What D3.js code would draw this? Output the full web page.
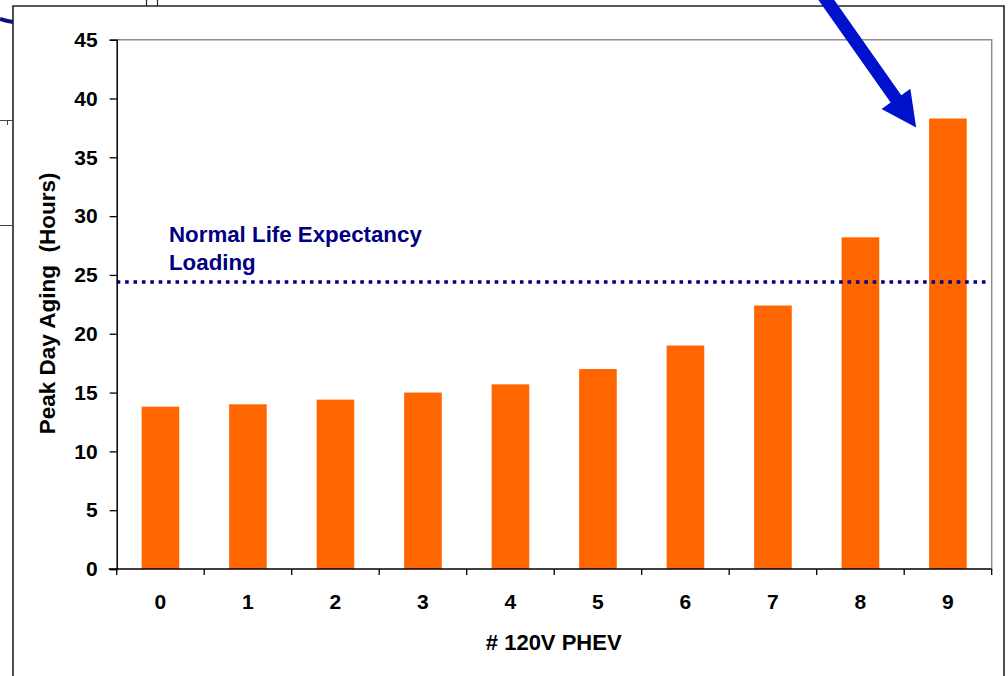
<!DOCTYPE html>
<html>
<head>
<meta charset="utf-8">
<script src="https://cdn.jsdelivr.net/npm/d3@7"></script>
<style>
  html, body { margin: 0; padding: 0; background: #fff; }
  svg { display: block; font-family: "Liberation Sans", Arial, sans-serif; }
</style>
</head>
<body>
<svg id="chart" width="1008" height="676"></svg>
<script>
// Number of 120V PHEVs on the transformer vs. peak-day aging
const categories = ["0", "1", "2", "3", "4", "5", "6", "7", "8", "9"];
const agingHours = [13.8, 14.0, 14.4, 15.0, 15.7, 17.0, 19.0, 22.4, 28.2, 38.3];
const yTicks = [0, 5, 10, 15, 20, 25, 30, 35, 40, 45];
const normalLoading = 24.4;
const referenceLabel = ["Normal Life Expectancy", "Loading"];
const xTitle = "# 120V PHEV";
const yTitle = "Peak Day Aging  (Hours)";

const svg = d3.select("#chart");
const plot = { left: 116.7, right: 991.7, top: 39.7, bottom: 569 };

const x = d3.scaleBand()
  .domain(categories)
  .range([plot.left, plot.right])
  .paddingInner(0.57)
  .paddingOuter(0.285);

const y = d3.scaleLinear()
  .domain([0, 45])
  .range([plot.bottom, plot.top]);

// Slide frame and fragments of neighbouring shapes
const frame = svg.append("g").attr("fill", "none").attr("stroke", "#222");
frame.append("path").attr("d", "M13,700 V6 H1004 V700").attr("stroke-width", 1.6);
frame.append("path").attr("d", "M146.5,0 V6 M157.5,0 V6").attr("stroke-width", 1.2);
frame.append("path").attr("d", "M0,120.5 H13 M7.5,120.5 V125 M0,225.5 H13")
  .attr("stroke", "#444").attr("stroke-width", 1);
svg.append("path")
  .attr("d", "M0,19 Q6,21 13,22")
  .attr("fill", "none").attr("stroke", "#101080").attr("stroke-width", 4);

// Plot area border (top and right)
svg.append("path")
  .attr("d", `M${plot.left},${plot.top} H${plot.right} V${plot.bottom}`)
  .attr("fill", "none").attr("stroke", "#8c8c8c").attr("stroke-width", 1.5);

// Bars
svg.append("g").selectAll("rect")
  .data(categories.map((c, i) => ({ c, v: agingHours[i] })))
  .join("rect")
  .attr("x", d => x(d.c))
  .attr("width", x.bandwidth())
  .attr("y", d => y(d.v))
  .attr("height", d => y(0) - y(d.v))
  .attr("fill", "#FF6600");

// Normal life expectancy reference line
svg.append("line")
  .attr("x1", plot.left).attr("x2", plot.right - 6)
  .attr("y1", y(normalLoading)).attr("y2", y(normalLoading))
  .attr("stroke", "#000080").attr("stroke-width", 3.6)
  .attr("stroke-dasharray", "3.6,4.8");

svg.append("text")
  .attr("x", 169).attr("y", 241.5)
  .attr("fill", "#000080").attr("font-weight", "bold").attr("font-size", 22.3)
  .selectAll("tspan").data(referenceLabel).join("tspan")
  .attr("x", 169).attr("dy", (d, i) => i === 0 ? 0 : 28.5)
  .text(d => d);

// Y axis
const yAxis = svg.append("g")
  .attr("transform", `translate(${plot.left},0)`)
  .call(d3.axisLeft(y).tickValues(yTicks).tickSize(7).tickPadding(12));
yAxis.select(".domain").attr("stroke", "#000").attr("stroke-width", 1.5);
yAxis.selectAll(".tick line").attr("stroke", "#000").attr("stroke-width", 1.3);
yAxis.selectAll(".tick text")
  .attr("font-size", 21).attr("font-weight", "bold").attr("fill", "#000")
  .attr("font-family", "Liberation Sans, Arial, sans-serif");

// X axis: ticks at category boundaries, labels centred on bars
const boundaries = d3.range(categories.length + 1)
  .map(i => plot.left + i * x.step());
const xAxis = svg.append("g");
xAxis.append("line")
  .attr("x1", plot.left - 8).attr("x2", plot.right)
  .attr("y1", plot.bottom).attr("y2", plot.bottom)
  .attr("stroke", "#000").attr("stroke-width", 1.5);
xAxis.selectAll("line.tk").data(boundaries).join("line")
  .attr("class", "tk")
  .attr("x1", d => d).attr("x2", d => d)
  .attr("y1", plot.bottom).attr("y2", plot.bottom + 6)
  .attr("stroke", "#000").attr("stroke-width", 1.3);
xAxis.selectAll("text").data(categories).join("text")
  .attr("x", d => x(d) + x.bandwidth() / 2)
  .attr("y", 609)
  .attr("text-anchor", "middle")
  .attr("font-size", 21).attr("font-weight", "bold")
  .text(d => d);

// Axis titles
svg.append("text")
  .attr("x", (plot.left + plot.right) / 2 - 0.5).attr("y", 650)
  .attr("text-anchor", "middle")
  .attr("font-size", 22).attr("font-weight", "bold")
  .text(xTitle);

svg.append("text")
  .attr("transform", `translate(54.5,${(plot.top + plot.bottom) / 2 - 1}) rotate(-90)`)
  .attr("text-anchor", "middle")
  .attr("font-size", 22.5).attr("font-weight", "bold")
  .style("white-space", "pre")
  .text(yTitle);

// Arrow pointing at the tallest bar
const last = categories[categories.length - 1];
const tip = [x(last) - 13, y(agingHours[agingHours.length - 1]) + 9];
const dir = [0.576, 0.818];
const nrm = [-dir[1], dir[0]];
const headLen = 35, headHalf = 17.6, shaftHalf = 6.5;
const base = [tip[0] - dir[0] * headLen, tip[1] - dir[1] * headLen];
const tail = [base[0] - dir[0] * 140, base[1] - dir[1] * 140];
const pt = (p, k) => [p[0] + nrm[0] * k, p[1] + nrm[1] * k];
const arrowPts = [
  pt(tail, shaftHalf), pt(base, shaftHalf), pt(base, headHalf), tip,
  pt(base, -headHalf), pt(base, -shaftHalf), pt(tail, -shaftHalf)
];
svg.append("path")
  .attr("d", d3.line()(arrowPts) + "Z")
  .attr("fill", "#0011CC");
</script>
</body>
</html>
